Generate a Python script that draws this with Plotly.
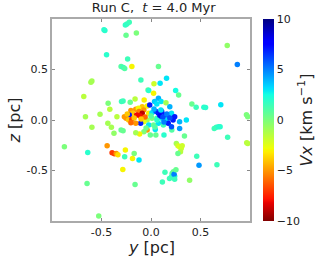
import plotly.graph_objects as go

# star positions y, z [pc] and velocity Vx [km/s]
y_pc = [-0.243, -0.220, -0.259, -0.466, -0.475, -0.148, -0.252, -0.449, -0.236, -0.302,
        -0.279, -0.266, -0.193, 0.770, 0.872, 0.075, -0.102, 0.157, -0.597, -0.607,
        -0.679, 0.030, -0.030, 0.092, 0.249, 0.279, 0.413, 0.456, 0.534, 0.551,
        0.705, 0.964, 0.977, 0.357, 0.289, 0.639, 0.659, 0.682, 0.698, 0.774,
        0.977, 0.967, 0.338, 0.210, 0.131, 0.049,
        -0.662, -0.597, -0.515, -0.433, -0.416, -0.344, -0.400, -0.374, -0.875, -0.639,
        -0.443, -0.393, -0.370, -0.351, -0.334, -0.259, -0.266, -0.170, -0.187, -0.121,
        -0.285, -0.646, -0.161, -0.528, -0.302, -0.298, -0.282, -0.210, -0.161, -0.069,
        -0.436, -0.282,
        0.256, 0.272, 0.289, 0.305, 0.298, 0.272, 0.315, 0.462, 0.485, 0.666,
        0.141, 0.213, 0.226, 0.207, 0.187, 0.239, 0.233, 0.252, 0.390, 0.115, 0.239,
        -0.023, 0.026, 0.075, 0.102, 0.036, 0.059, 0.151, 0.190, -0.089, -0.039,
        -0.013, -0.154, -0.128, -0.072, -0.121, -0.203, -0.187, -0.089, -0.144, -0.220,
        -0.269, -0.252, -0.226, -0.193, -0.023, 0.010, 0.052, 0.075, 0.108, 0.141,
        0.174, 0.207, 0.239, 0.223, 0.157, 0.108, 0.059, 0.010, -0.039, -0.072,
        -0.105, -0.154, -0.203, -0.023, 0.026, 0.075, 0.125, 0.174, 0.207, 0.289,
        -0.039, -0.072, 0.043, -0.007, -0.115, -0.154,
        -0.110, -0.060, -0.100, 0.000, 0.030, 0.090, 0.120, 0.160, 0.060, 0.130,
        0.190, 0.040, -0.170, -0.240, -0.050, 0.100]
z_pc = [0.950, 0.967, 0.940, 0.887, 0.894, 0.861, 0.838, 0.646, 0.603, 0.530,
        0.520, 0.510, 0.530, 0.738, 0.550, 0.530, 0.397, 0.414, 0.387, 0.374,
        0.232, 0.358, 0.298, 0.364, 0.291, 0.248, 0.159, 0.126, 0.126, 0.123,
        0.152, 0.053, 0.033, 0.000, -0.083, -0.083, -0.073, -0.066, -0.066, -0.172,
        -0.232, -0.225, -0.159, -0.099, -0.149, -0.149,
        0.033, -0.073, 0.056, 0.166, 0.106, 0.033, -0.073, -0.132, -0.265, -0.321,
        -0.255, -0.325, -0.334, -0.331, -0.344, -0.298, -0.364, -0.331, -0.381, -0.397,
        -0.490, -0.629, -0.639, -0.950, -0.099, 0.182, 0.189, 0.175, 0.209, 0.199,
        -0.033, -0.106,
        -0.232, -0.255, -0.265, -0.281, -0.315, -0.331, -0.255, -0.358, -0.447, -0.444,
        -0.517, -0.530, -0.513, -0.563, -0.579, -0.556, -0.536, -0.493, -0.596, -0.613, -0.586,
        0.291, 0.265, 0.215, 0.182, 0.182, 0.159, 0.172, 0.132, 0.132, 0.139,
        0.149, 0.106, 0.116, 0.099, 0.083, 0.093, 0.066, 0.066, 0.050, 0.050,
        0.033, 0.017, 0.000, 0.007, 0.066, 0.073, 0.083, 0.066, 0.083, 0.050,
        0.033, 0.066, 0.033, 0.000, 0.000, 0.017, 0.017, 0.017, 0.000, -0.017,
        -0.033, -0.033, -0.026, -0.050, -0.050, -0.033, -0.050, -0.033, -0.066, -0.017,
        -0.099, -0.116, -0.093, -0.149, -0.139, -0.126,
        0.040, 0.030, 0.010, 0.040, 0.110, 0.040, 0.030, 0.060, 0.000, -0.020,
        0.020, -0.070, 0.020, 0.060, -0.080, 0.100]
vx = [1.5, 1.5, 1.8, 2.0, 2.0, 0.0, 0.5, 2.0, 1.5, 1.0,
      1.5, 1.0, -3.0, -0.5, 5.0, 0.5, 1.5, 3.0, -1.0, -1.0,
      -1.5, -2.0, 0.5, 3.0, 2.5, 0.5, 0.5, 1.5, 2.0, 2.0,
      3.0, 0.0, 0.0, 3.0, 4.5, 1.5, 1.5, 2.0, 2.0, 1.5,
      -1.5, -1.5, 0.5, 1.0, 2.0, 0.5,
      -1.0, -1.0, -1.0, 0.0, -1.5, -1.5, -1.0, -0.5, 0.0, 2.0,
      -5.0, -7.0, -7.0, -5.0, -3.5, -3.0, 1.5, 0.0, -3.0, 3.0,
      -3.0, 0.5, 0.5, 0.0, 0.5, 1.5, 1.5, 0.5, -1.5, -3.0,
      -1.0, 0.5,
      -1.0, -2.0, -2.5, -2.0, -1.5, 0.5, -2.0, 1.5, 4.5, 1.5,
      1.5, 1.0, 0.5, 1.5, 1.5, 2.0, 5.0, 0.5, -0.5, 1.5, 1.5,
      2.0, -3.0, 4.0, 3.0, 3.5, 3.0, -1.0, 4.0, -4.0, -3.0,
      7.0, -5.0, -3.0, -5.0, -5.5, -5.0, -4.0, -9.0, -8.0, 7.0,
      -5.0, -5.0, -4.0, -7.0, -3.0, 3.0, 6.0, 7.0, 7.0, 7.0,
      6.0, 3.0, 7.0, 7.0, 3.0, 3.0, 1.5, 0.0, -1.0, -2.5,
      7.0, -5.0, -6.0, 3.0, 0.5, 3.0, 1.5, 7.0, 6.0, 4.0,
      -5.0, 0.0, 3.0, 0.5, -3.0, -1.0,
      -8.0, -6.0, -4.0, 1.0, 4.0, 8.0, 6.0, 5.0, 2.0, 5.0,
      6.0, 1.0, -4.0, -4.0, 0.5, 3.0]

tick_vals = [-0.5, 0.0, 0.5]
tick_text = ["-0.5", "0.0", "0.5"]
cbar_vals = [-10, -5, 0, 5, 10]

jet = [[0.0, "rgb(0,0,128)"], [0.11, "rgb(0,0,255)"], [0.125, "rgb(0,0,255)"],
       [0.34, "rgb(0,219,255)"], [0.35, "rgb(0,229,247)"], [0.375, "rgb(20,255,226)"],
       [0.64, "rgb(239,255,8)"], [0.65, "rgb(247,245,0)"], [0.66, "rgb(255,236,0)"],
       [0.89, "rgb(255,19,0)"], [0.91, "rgb(232,0,0)"], [1.0, "rgb(128,0,0)"]]

font = "DejaVu Sans"
fig = go.Figure(go.Scatter(
    x=y_pc, y=z_pc, mode="markers",
    marker=dict(size=5.5, color=vx, cmin=-10, cmax=10, colorscale=jet, reversescale=True,
                line=dict(width=0),
                colorbar=dict(x=1.064, xanchor="left", y=0.5, yanchor="middle",
                              len=1, lenmode="fraction", thickness=11, ypad=0, xpad=0,
                              outlinewidth=0, ticks="", tickvals=cbar_vals,
                              tickfont=dict(size=11, color="#222", family=font),
                              title=dict(text="<i>Vx</i> [km s<sup>−1</sup>]", side="right",
                                         font=dict(size=16, color="#222", family=font)))),
    showlegend=False))

axis_common = dict(range=[-1, 1], tickvals=tick_vals, ticktext=tick_text, ticks="inside",
                   ticklen=3, tickcolor="#888", showline=True, linecolor="#aaa", linewidth=1.5,
                   mirror="ticks", showgrid=False, zeroline=False,
                   tickfont=dict(size=11, color="#222", family=font))
fig.update_xaxes(**axis_common)
fig.update_yaxes(**axis_common)
title_font = dict(size=16, color="#222", family=font)
fig.add_annotation(text="<i>y</i> [pc]", xref="paper", yref="paper", x=0.5, y=-0.13,
                   xanchor="center", yanchor="middle", showarrow=False, font=title_font)
fig.add_annotation(text="<i>z</i> [pc]", xref="paper", yref="paper", x=-0.19, y=0.5,
                   xanchor="center", yanchor="middle", textangle=-90, showarrow=False,
                   font=title_font)
fig.update_layout(width=327, height=263, margin=dict(l=52, r=72, t=19, b=42),
                  paper_bgcolor="white", plot_bgcolor="white",
                  title=dict(text="Run C,  <i>t</i> = 4.0 Myr", x=0.47, xanchor="center",
                             y=0.99, yanchor="top", yref="container",
                             font=dict(size=13, color="#222", family=font)))
fig.write_html("out.html", config={"displayModeBar": False},
               post_script="document.body.style.margin='0px';")
